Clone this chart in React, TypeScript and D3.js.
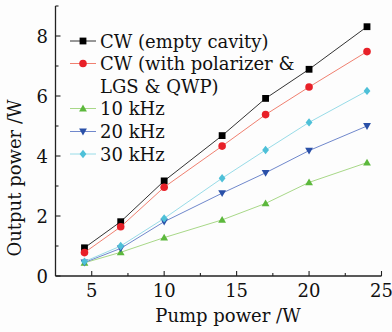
import React from "react";
import * as d3 from "d3";

const pumpPower = [4.5, 7, 10, 14, 17, 20, 24];
const cwEmpty = [0.94, 1.81, 3.17, 4.68, 5.92, 6.89, 8.31];
const cwPolarizer = [0.78, 1.64, 2.96, 4.33, 5.38, 6.3, 7.48];
const khz10 = [0.44, 0.79, 1.28, 1.87, 2.42, 3.12, 3.78];
const khz20 = [0.45, 0.92, 1.81, 2.76, 3.44, 4.18, 5.0];
const khz30 = [0.48, 1.0, 1.92, 3.26, 4.2, 5.12, 6.17];

const seriesNames = ["CW (empty cavity)", "CW (with polarizer &", "10 kHz", "20 kHz", "30 kHz"];
const xTicks = [5, 10, 15, 20, 25];
const xMinor = [7.5, 12.5, 17.5, 22.5];
const yTicks = [0, 2, 4, 6, 8];
const yMinor = [1, 3, 5, 7, 9];

const W = 392;
const H = 332;
const FONT = "'DejaVu Serif', serif";
const FS = 18;

type Shape = "square" | "circle" | "up" | "down" | "diamond";

const series = [
  { name: seriesNames[0], values: cwEmpty, line: "#333333", marker: "#000000", shape: "square" as Shape },
  { name: seriesNames[1], values: cwPolarizer, line: "#f08070", marker: "#e82028", shape: "circle" as Shape },
  { name: seriesNames[2], values: khz10, line: "#a8d888", marker: "#5cb83c", shape: "up" as Shape },
  { name: seriesNames[3], values: khz20, line: "#7088cc", marker: "#2a50a8", shape: "down" as Shape },
  { name: seriesNames[4], values: khz30, line: "#98dce8", marker: "#4ec0d8", shape: "diamond" as Shape },
];

function Marker({ shape, x, y, color }: { shape: Shape; x: number; y: number; color: string }) {
  const s = 3.4;
  if (shape === "square") return <rect x={x - s} y={y - s} width={2 * s} height={2 * s} fill={color} />;
  if (shape === "circle") return <circle cx={x} cy={y} r={s + 0.4} fill={color} />;
  if (shape === "up")
    return <path d={`M${x},${y - s - 0.5}L${x + s + 0.5},${y + s - 0.5}L${x - s - 0.5},${y + s - 0.5}Z`} fill={color} />;
  if (shape === "down")
    return <path d={`M${x},${y + s + 0.5}L${x + s + 0.5},${y - s + 0.5}L${x - s - 0.5},${y - s + 0.5}Z`} fill={color} />;
  return <path d={`M${x},${y - s - 0.8}L${x + s},${y}L${x},${y + s + 0.8}L${x - s},${y}Z`} fill={color} />;
}

export default function App() {
  const x = d3.scaleLinear().domain([2.5, 25]).range([55.5, 381.5]);
  const y = d3.scaleLinear().domain([0, 9]).range([276, 6]);
  const line = d3
    .line<number>()
    .x((_, i) => x(pumpPower[i]))
    .y((d) => y(d));

  const legendY = [41, 63.5, 108.5, 131.5, 154];

  return (
    <svg width={W} height={H} style={{ position: "absolute", left: 0, top: 0, background: "#fdfdfd" }}>
      <rect width={W} height={H} fill="#fdfdfd" />
      {/* axes */}
      <line x1={x(2.5)} x2={x(25)} y1={y(0)} y2={y(0)} stroke="#222" strokeWidth={1.3} />
      <line x1={x(2.5)} x2={x(2.5)} y1={y(0)} y2={y(9)} stroke="#222" strokeWidth={1.3} />
      {xTicks.map((t) => (
        <g key={"xt" + t}>
          <line x1={x(t)} x2={x(t)} y1={y(0)} y2={y(0) - 5} stroke="#222" strokeWidth={1.1} />
          <text x={x(t)} y={297} textAnchor="middle" fontFamily={FONT} fontSize={FS} fill="#111">
            {t}
          </text>
        </g>
      ))}
      {xMinor.map((t) => (
        <line key={"xm" + t} x1={x(t)} x2={x(t)} y1={y(0)} y2={y(0) - 3} stroke="#222" strokeWidth={1.1} />
      ))}
      {yTicks.map((t) => (
        <g key={"yt" + t}>
          <line x1={x(2.5)} x2={x(2.5) + 5} y1={y(t)} y2={y(t)} stroke="#222" strokeWidth={1.1} />
          <text x={48} y={y(t) + 6.5} textAnchor="end" fontFamily={FONT} fontSize={FS} fill="#111">
            {t}
          </text>
        </g>
      ))}
      {yMinor.map((t) => (
        <line key={"ym" + t} x1={x(2.5)} x2={x(2.5) + 3} y1={y(t)} y2={y(t)} stroke="#222" strokeWidth={1.1} />
      ))}
      {/* axis labels */}
      <text x={228} y={322} textAnchor="middle" fontFamily={FONT} fontSize={FS} fill="#111">
        Pump power /W
      </text>
      <text
        transform="translate(21,178) rotate(-90)"
        textAnchor="middle"
        fontFamily={FONT}
        fontSize={FS}
        fill="#111"
      >
        Output power /W
      </text>
      {/* series */}
      {series.map((s) => (
        <g key={s.name}>
          <path d={line(s.values) || ""} fill="none" stroke={s.line} strokeWidth={1} />
          {s.values.map((v, i) => (
            <Marker key={i} shape={s.shape} x={x(pumpPower[i])} y={y(v)} color={s.marker} />
          ))}
        </g>
      ))}
      {/* legend */}
      {series.map((s, i) => (
        <g key={"lg" + s.name}>
          <line x1={70} x2={96} y1={legendY[i]} y2={legendY[i]} stroke={s.line} strokeWidth={1} />
          <Marker shape={s.shape} x={83} y={legendY[i]} color={s.marker} />
          <text x={100} y={legendY[i] + 6.5} fontFamily={FONT} fontSize={FS} fill="#111">
            {s.name}
          </text>
        </g>
      ))}
      <text x={100} y={86 + 6.5} fontFamily={FONT} fontSize={FS} fill="#111">
        LGS &amp; QWP)
      </text>
    </svg>
  );
}
